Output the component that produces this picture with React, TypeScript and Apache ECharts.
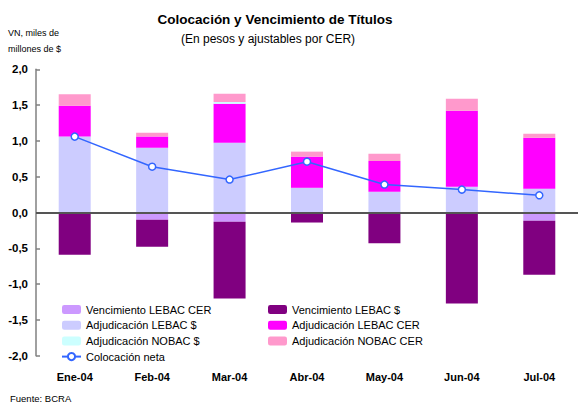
import React, { useEffect, useRef } from "react";
import * as echarts from "echarts";

const categories = ["Ene-04", "Feb-04", "Mar-04", "Abr-04", "May-04", "Jun-04", "Jul-04"];
const vencLebacCer = [0, -0.1, -0.13, 0, 0, 0, -0.115];
const vencLebacPesos = [-0.59, -0.38, -1.07, -0.14, -0.43, -1.27, -0.755];
const adjLebacPesos = [1.06, 0.905, 0.975, 0.345, 0.29, 0.36, 0.33];
const adjLebacCer = [0.43, 0.155, 0.545, 0.435, 0.43, 1.06, 0.715];
const adjNobacPesos = [0, 0, 0.025, 0, 0, 0, 0];
const adjNobacCer = [0.16, 0.055, 0.115, 0.07, 0.1, 0.17, 0.055];
const colocacionNeta = [1.06, 0.64, 0.46, 0.71, 0.39, 0.32, 0.24];
const yTicks = { min: -2, max: 2, interval: 0.5 };

const FONT = "'Liberation Sans', Arial, sans-serif";

export default function App() {
  const ref = useRef<HTMLDivElement>(null);
  useEffect(() => {
    if (!ref.current) return;
    const chart = echarts.init(ref.current, null, { renderer: "svg" });
    const bar = (name: string, data: number[], color: string) => ({
      name,
      type: "bar",
      stack: "s",
      barWidth: 32,
      data,
      itemStyle: { color },
    });
    const txt = (text: string, x: number, y: number, font: string, align: string) => ({
      type: "text",
      x,
      y,
      style: {
        text,
        font,
        fill: "#000",
        align,
        verticalAlign: "middle",
        textAlign: align,
        textVerticalAlign: "middle",
      },
    });
    chart.setOption({
      animation: false,
      textStyle: { fontFamily: FONT },
      grid: { left: 36, top: 69.3, width: 546, height: 286.4 },
      xAxis: {
        type: "category",
        data: categories,
        axisLine: { show: false },
        axisTick: { show: false },
        axisLabel: { fontSize: 11, fontWeight: "bold", color: "#000", margin: 16, fontFamily: FONT },
      },
      yAxis: {
        type: "value",
        min: yTicks.min,
        max: yTicks.max,
        interval: yTicks.interval,
        splitLine: { show: false },
        axisLine: { show: true, lineStyle: { color: "#808080", width: 1.5 } },
        axisTick: { show: true, inside: true, length: 4, lineStyle: { color: "#808080", width: 1.5 } },
        axisLabel: {
          fontSize: 11.5,
          fontWeight: "bold",
          color: "#000",
          margin: 8,
          fontFamily: FONT,
          formatter: (v: number) => v.toFixed(1).replace(".", ","),
        },
      },
      legend: [
        {
          left: 61,
          top: 303.5,
          orient: "vertical",
          padding: 0,
          itemWidth: 19,
          itemHeight: 9,
          itemGap: 3.7,
          textStyle: { fontSize: 11, color: "#000", lineHeight: 12, fontFamily: FONT },
          data: ["Vencimiento LEBAC CER", "Adjudicación LEBAC $", "Adjudicación NOBAC $", "Colocación neta"],
        },
        {
          left: 268,
          top: 303.5,
          orient: "vertical",
          padding: 0,
          itemWidth: 19,
          itemHeight: 9,
          itemGap: 3.7,
          textStyle: { fontSize: 11, color: "#000", lineHeight: 12, fontFamily: FONT },
          data: ["Vencimiento LEBAC $", "Adjudicación LEBAC CER", "Adjudicación NOBAC CER"],
        },
      ],
      graphic: [
        txt("Colocación y Vencimiento de Títulos", 275, 19.5, `bold 13.5px ${FONT}`, "center"),
        txt("(En pesos y ajustables por CER)", 268, 39, `12px ${FONT}`, "center"),
        txt("VN, miles de", 8, 33, `9px ${FONT}`, "left"),
        txt("millones de $", 8, 49, `9px ${FONT}`, "left"),
        txt("Fuente: BCRA", 10, 398, `9.5px ${FONT}`, "left"),
      ],
      series: [
        bar("Vencimiento LEBAC CER", vencLebacCer, "#CC99FF"),
        bar("Vencimiento LEBAC $", vencLebacPesos, "#800080"),
        bar("Adjudicación LEBAC $", adjLebacPesos, "#CCCCFF"),
        bar("Adjudicación LEBAC CER", adjLebacCer, "#FF00FF"),
        bar("Adjudicación NOBAC $", adjNobacPesos, "#CCFFFF"),
        bar("Adjudicación NOBAC CER", adjNobacCer, "#FF99CC"),
        {
          name: "Colocación neta",
          type: "line",
          data: colocacionNeta,
          symbol: "circle",
          symbolSize: 7,
          lineStyle: { color: "#3366FF", width: 1.5 },
          itemStyle: { color: "#FFFFFF", borderColor: "#3366FF", borderWidth: 1.5 },
          markLine: {
            silent: true,
            symbol: ["none", "none"],
            label: { show: false },
            lineStyle: { color: "#555555", width: 2, type: "solid" },
            data: [{ yAxis: 0 }],
          },
        },
      ],
    });
    return () => chart.dispose();
  }, []);
  return (
    <div
      ref={ref}
      style={{ position: "absolute", left: 0, top: 0, width: 578, height: 405, background: "#fff" }}
    />
  );
}
